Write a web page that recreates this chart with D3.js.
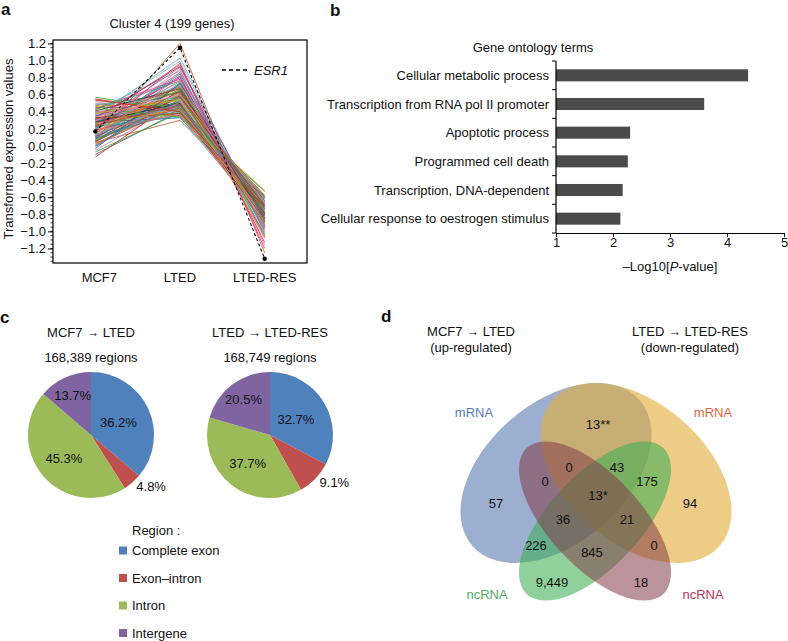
<!DOCTYPE html>
<html><head><meta charset="utf-8">
<script src="https://cdn.jsdelivr.net/npm/d3@7"></script>
<style>
body{margin:0;background:#fff}
svg{display:block}
text{font-family:"Liberation Sans",Arial,Helvetica,sans-serif;fill:#111}
</style>
</head><body>
<svg id="fig" width="788" height="641"></svg>
<script>
// ---------------- DATA ----------------
// Panel a
const conditions = ["MCF7", "LTED", "LTED-RES"];
const yTickValuesA = [-1.2, -1.0, -0.8, -0.6, -0.4, -0.2, 0.0, 0.2, 0.4, 0.6, 0.8, 1.0, 1.2];
const geneMCF7 = [0.55,0.52,0.48,0.45,0.42,0.40,0.38,0.36,0.35,0.33,0.31,0.30,0.28,0.27,0.25,0.24,0.22,0.21,0.20,0.18,0.17,0.15,0.14,0.12,0.10,0.08,0.06,0.04,0.02,-0.01,-0.05,-0.10,-0.13,0.50,0.44,0.39,0.34,0.29,0.26,0.23,0.19,0.16,0.13,0.09,0.05,0.57,0.47,0.37,0.32,0.27,0.22,0.11,0.03,0.41,0.36,0.30,0.25,0.20,0.15,0.07,
  0.46,0.43,0.39,0.35,0.32,0.29,0.26,0.24,0.21,0.19,0.16,0.13,0.11,0.08,0.05,0.01,-0.03,-0.07,0.53,0.49,0.41,0.37,0.33,0.28,0.23,0.18,0.14,0.09,0.00,0.44,0.38,0.31,0.26,0.20,0.12,0.06,0.54,0.34,0.17,0.24];
const geneLTED = [0.40,0.35,0.62,0.45,0.88,0.50,0.38,0.70,0.55,0.42,0.95,0.60,0.33,0.48,0.75,0.52,0.66,0.36,0.82,0.44,0.58,0.47,0.90,0.39,0.64,0.72,0.54,0.30,0.46,0.61,0.50,0.41,0.56,0.37,0.78,0.43,1.03,0.49,0.68,0.34,0.86,0.59,0.45,0.74,0.53,0.42,0.63,0.99,0.51,0.40,0.80,0.57,0.48,0.35,0.69,0.44,0.92,0.60,0.47,1.20,
  0.52,0.76,0.44,0.63,0.38,0.85,0.57,0.47,0.71,0.36,0.66,0.53,0.81,0.42,0.59,0.49,0.73,0.39,0.46,0.55,0.67,0.41,0.93,0.50,0.62,0.37,0.77,0.45,0.58,0.34,0.54,0.69,0.43,0.84,0.51,0.65,0.40,0.60,0.97,0.48];
const geneRES = [-0.59,-0.76,-0.70,-0.89,-0.97,-0.80,-0.52,-1.03,-0.73,-0.90,-1.07,-0.74,-0.71,-0.62,-1.04,-0.67,-0.96,-0.53,-1.13,-0.69,-0.85,-0.58,-1.16,-0.62,-1.05,-0.92,-0.70,-0.70,-0.61,-0.95,-0.66,-0.80,-0.66,-0.84,-0.91,-0.75,-0.94,-0.89,-0.81,-0.85,-1.01,-0.73,-0.79,-0.79,-0.89,-0.60,-0.94,-0.94,-0.93,-0.66,-0.99,-0.64,-0.88,-0.60,-1.08,-0.74,-0.95,-0.89,-0.62,-1.25,
  -0.89,-0.82,-0.82,-0.71,-0.85,-0.95,-0.84,-0.58,-1.03,-0.60,-1.06,-0.79,-0.88,-0.77,-0.69,-0.87,-0.80,-0.78,-0.60,-0.96,-0.84,-0.74,-0.87,-0.90,-0.77,-0.87,-0.95,-0.64,-0.88,-0.53,-0.90,-0.78,-0.81,-0.85,-0.93,-0.82,-0.73,-0.66,-1.20,-0.68];
const esr1Values = [0.17, 1.15, -1.32];

// Panel b
const goTerms = ["Cellular metabolic process","Transcription from RNA pol II promoter","Apoptotic process","Programmed cell death","Transcription, DNA-dependent","Cellular response to oestrogen stimulus"];
const goValues = [4.37, 3.60, 2.30, 2.26, 2.17, 2.13];
const xTickValuesB = [1, 2, 3, 4, 5];

// Panel c
const regionNames = ["Complete exon", "Exon\u2013intron", "Intron", "Intergene"];
const pieTitles = ["MCF7 \u2192 LTED", "LTED \u2192 LTED-RES"];
const pieTotals = ["168,389 regions", "168,749 regions"];
const pie1Values = [36.2, 4.8, 45.3, 13.7];
const pie2Values = [32.7, 9.1, 37.7, 20.5];

// Panel d
const vennSetLabels = ["mRNA", "mRNA", "ncRNA", "ncRNA"];
const vennCounts = ["57","13**","94","0","0","43","175","13*","36","21","226","845","0","9,449","18"];
const vennTitles = [["MCF7 \u2192 LTED","(up-regulated)"],["LTED \u2192 LTED-RES","(down-regulated)"]];

// ---------------- LAYOUT / STYLE ----------------
const FONT = 13;
const lineColors = ["#e41a1c","#377eb8","#4daf4a","#984ea3","#ff7f00","#222222","#a65628","#f781bf","#777777","#66c2a5","#d9a400","#1b9e77","#d95f02","#7570b3","#e7298a","#66a61e","#333333","#17becf","#bc80bd","#fb8072","#1f4e99","#8c564b","#bcbd22","#5fb8d0","#9a6fc0","#555555","#ff6f7f","#2ca02c","#6f9fd8","#b15928","#c51b7d","#4d9221"];
const regionColors = ["#4f81bd","#c0504d","#9bbb59","#8064a2"];

const svg = d3.select("#fig");

// panel letters
[["a",1,15],["b",330,16],["c",0,323],["d",381,322]].forEach(([t,x,y])=>{
  svg.append("text").attr("x",x).attr("y",y).attr("font-size",17).attr("font-weight","bold").text(t);
});

// ================ PANEL A ================
{
  const L=53, R=307, T=40, B=263;
  const x = d3.scalePoint().domain(conditions).range([L,R]).padding(0.5);
  const y = d3.scaleLinear().domain([-1.37,1.24]).range([B,T]);
  const g = svg.append("g");
  g.append("text").attr("x",172).attr("y",28).attr("text-anchor","middle").attr("font-size",FONT).text("Cluster 4 (199 genes)");
  g.append("text").attr("transform","translate(13,149) rotate(-90)").attr("text-anchor","middle").attr("font-size",FONT).text("Transformed expression values");

  const genes = geneMCF7.map((v,i)=>[v, geneLTED[i], geneRES[i]]);
  const line = d3.line().x((d,i)=>x(conditions[i])).y(d=>y(d));
  g.append("g").selectAll("path").data(genes).join("path")
    .attr("d",line).attr("fill","none")
    .attr("stroke",(d,i)=>lineColors[(i*7)%lineColors.length])
    .attr("stroke-width",0.9).attr("stroke-opacity",0.9);
  g.append("path").datum(esr1Values).attr("d",line).attr("fill","none")
    .attr("stroke","#000").attr("stroke-width",1.1).attr("stroke-dasharray","3,2.5");
  g.append("g").selectAll("circle").data(esr1Values).join("circle")
    .attr("cx",(d,i)=>x(conditions[i])).attr("cy",d=>y(d)).attr("r",2.2).attr("fill","#000");

  g.append("rect").attr("x",L).attr("y",T).attr("width",R-L).attr("height",B-T)
    .attr("fill","none").attr("stroke","#000").attr("stroke-width",1.2);
  const ax = g.append("g").attr("transform",`translate(${L},0)`)
    .call(d3.axisLeft(y).tickValues(yTickValuesA).tickFormat(d3.format(".1f")).tickSize(5).tickPadding(2));
  ax.select(".domain").remove();
  ax.selectAll("text").attr("font-size",FONT).attr("font-family","Liberation Sans, Arial, sans-serif");
  const minor = d3.range(-1.35,1.24,0.05);
  g.append("g").selectAll("line").data(minor).join("line")
    .attr("x1",L-2.5).attr("x2",L).attr("y1",d=>y(d)).attr("y2",d=>y(d)).attr("stroke","#000").attr("stroke-width",0.8);
  g.append("g").selectAll("text").data(conditions).join("text")
    .attr("x",d=>x(d)+(d==="MCF7"?4:0)).attr("y",282).attr("text-anchor","middle").attr("font-size",FONT).text(d=>d);
  g.append("line").attr("x1",222).attr("x2",250).attr("y1",70).attr("y2",70)
    .attr("stroke","#000").attr("stroke-width",1.3).attr("stroke-dasharray","4,3");
  g.append("text").attr("x",254).attr("y",75).attr("font-size",FONT).attr("font-style","italic").text("ESR1");
}

// ================ PANEL B ================
{
  const x = d3.scaleLinear().domain([1,5]).range([556,784]);
  const y = d3.scaleBand().domain(goTerms).range([61,233]).paddingInner(0.58).paddingOuter(0.29);
  const g = svg.append("g");
  g.append("text").attr("x",533).attr("y",52).attr("text-anchor","middle").attr("font-size",FONT).text("Gene ontology terms");
  g.append("g").selectAll("rect").data(goTerms).join("rect")
    .attr("x",x(1)).attr("y",d=>y(d)).attr("height",y.bandwidth())
    .attr("width",(d,i)=>x(goValues[i])-x(1)).attr("fill","#4a4a4a");
  const ax = g.append("g").attr("transform","translate(0,233)")
    .call(d3.axisBottom(x).tickValues(xTickValuesB).tickFormat(d3.format("d")).tickSize(4).tickSizeOuter(0).tickPadding(1));
  ax.selectAll("text").attr("font-size",FONT).attr("font-family","Liberation Sans, Arial, sans-serif");
  ax.select(".domain").attr("stroke-width",1.2);
  g.append("line").attr("x1",556).attr("x2",556).attr("y1",61).attr("y2",233).attr("stroke","#000").attr("stroke-width",1.2);
  const step = (233-61)/goTerms.length;
  g.append("g").selectAll("line").data(d3.range(goTerms.length+1)).join("line")
    .attr("x1",552).attr("x2",556).attr("y1",i=>61+i*step).attr("y2",i=>61+i*step).attr("stroke","#000");
  g.append("g").selectAll("text").data(goTerms).join("text")
    .attr("x",549).attr("y",d=>y(d)+y.bandwidth()/2).attr("dy","0.36em")
    .attr("text-anchor","end").attr("font-size",FONT).text(d=>d);
  const xl = g.append("text").attr("x",670).attr("y",271).attr("text-anchor","middle").attr("font-size",FONT);
  xl.append("tspan").text("\u2013Log10[");
  xl.append("tspan").attr("font-style","italic").text("P");
  xl.append("tspan").text("-value]");
}

// ================ PANEL C ================
{
  const R = 63;
  const centers = [[91,435],[270,435]];
  const labelR = [0.48, null, 0.57, 0.7];
  const pie = d3.pie().sort(null).value(d=>d);
  const arc = d3.arc().innerRadius(0).outerRadius(R);
  [pie1Values, pie2Values].forEach((vals, k)=>{
    const [cx,cy] = centers[k];
    const g = svg.append("g").attr("transform",`translate(${cx},${cy})`);
    svg.append("text").attr("x",cx).attr("y",337).attr("text-anchor","middle").attr("font-size",FONT).text(pieTitles[k]);
    svg.append("text").attr("x",cx).attr("y",362).attr("text-anchor","middle").attr("font-size",FONT).text(pieTotals[k]);
    const arcs = pie(vals);
    g.selectAll("path").data(arcs).join("path").attr("d",arc).attr("fill",(d,i)=>regionColors[i]);
    arcs.forEach((a,i)=>{
      const mid = (a.startAngle+a.endAngle)/2;
      if (labelR[i]===null) {
        const r = R+6;
        g.append("text").attr("x",Math.sin(mid)*r).attr("y",-Math.cos(mid)*r+4)
          .attr("text-anchor","start").attr("font-size",FONT).text(vals[i].toFixed(1)+"%");
      } else {
        const r = R*labelR[i];
        g.append("text").attr("x",Math.sin(mid)*r).attr("y",-Math.cos(mid)*r).attr("dy","0.36em")
          .attr("text-anchor","middle").attr("font-size",FONT).text(vals[i].toFixed(1)+"%");
      }
    });
  });
  svg.append("text").attr("x",132).attr("y",535).attr("font-size",FONT).text("Region :");
  const lg = svg.append("g").selectAll("g").data(regionNames).join("g")
    .attr("transform",(d,i)=>`translate(0,${555+i*27.5})`);
  lg.append("rect").attr("x",119).attr("y",-8.5).attr("width",8).attr("height",8).attr("fill",(d,i)=>regionColors[i]);
  lg.append("text").attr("x",132).attr("y",0).attr("font-size",FONT).text(d=>d);
}

// ================ PANEL D ================
{
  const g = svg.append("g");
  vennTitles.forEach((t,k)=>{
    const cx = [471,690][k];
    g.append("text").attr("x",cx).attr("y",336).attr("text-anchor","middle").attr("font-size",FONT).text(t[0]);
    g.append("text").attr("x",cx).attr("y",352).attr("text-anchor","middle").attr("font-size",FONT).text(t[1]);
  });
  const ellipses = [
    {cx:556, cy:473, rx:111, ry:70, rot:-41, fill:"#4b6eab", op:0.55},
    {cx:636, cy:473, rx:111, ry:70, rot:41,  fill:"#e2ae3c", op:0.62},
    {cx:595, cy:521, rx:100, ry:46, rot:-47, fill:"#3fae55", op:0.58},
    {cx:595, cy:521, rx:100, ry:46, rot:47,  fill:"#843c48", op:0.55}
  ];
  g.append("g").selectAll("ellipse").data(ellipses).join("ellipse")
    .attr("cx",0).attr("cy",0).attr("rx",d=>d.rx).attr("ry",d=>d.ry)
    .attr("transform",d=>`translate(${d.cx},${d.cy}) rotate(${d.rot})`)
    .attr("fill",d=>d.fill).attr("fill-opacity",d=>d.op);
  const vennPos = [[496,503],[598,424],[690,503],[545,481],[569,467],[617,467],[647,481],[598,495],[563,519],[627,519],[536,545],[592,552],[654,545],[552,582],[641,582]];
  g.append("g").selectAll("text").data(vennCounts).join("text")
    .attr("x",(d,i)=>vennPos[i][0]).attr("y",(d,i)=>vennPos[i][1]).attr("dy","0.36em")
    .attr("text-anchor","middle").attr("font-size",FONT).text(d=>d);
  const setPos = [[474,412],[713,412],[487,594],[703,594]];
  const setCol = ["#5a7ab8","#e2643c","#4eaa5e","#c03352"];
  g.append("g").selectAll("text").data(vennSetLabels).join("text")
    .attr("x",(d,i)=>setPos[i][0]).attr("y",(d,i)=>setPos[i][1]).attr("dy","0.36em")
    .attr("text-anchor","middle").attr("font-size",FONT).style("fill",(d,i)=>setCol[i]).text(d=>d);
}
</script>
</body></html>
